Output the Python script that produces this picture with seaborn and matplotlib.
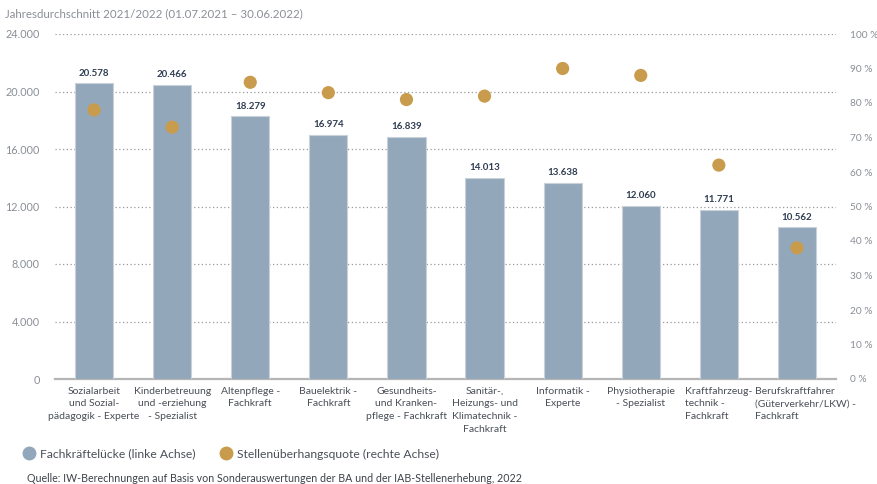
import matplotlib
matplotlib.use("Agg")
import matplotlib.pyplot as plt
from matplotlib.lines import Line2D
from matplotlib.transforms import ScaledTranslation, blended_transform_factory
import seaborn as sns
import numpy as np
import pandas as pd

categories = [
    "Sozialarbeit\nund Sozial-\npädagogik - Experte",
    "Kinderbetreuung\nund -erziehung\n- Spezialist",
    "Altenpflege -\nFachkraft",
    "Bauelektrik -\nFachkraft",
    "Gesundheits-\nund Kranken-\npflege - Fachkraft",
    "Sanitär-,\nHeizungs- und\nKlimatechnik -\nFachkraft",
    "Informatik -\nExperte",
    "Physiotherapie\n- Spezialist",
    "Kraftfahrzeug-\ntechnik -\nFachkraft",
    "Berufskraftfahrer\n(Güterverkehr/LKW) -\nFachkraft",
]
fachkraefteluecke = [20578, 20466, 18279, 16974, 16839, 14013, 13638, 12060, 11771, 10562]
quote = [78, 73, 86, 83, 81, 82, 90, 88, 62, 38]
left_ticks = [0, 4000, 8000, 12000, 16000, 20000, 24000]
right_ticks = [0, 10, 20, 30, 40, 50, 60, 70, 80, 90, 100]

BAR = "#93a7ba"
DOT = "#c99b4c"
GRAY = "#8a8f96"
TXT = "#4a4f57"
NAVY = "#2f3d52"

sns.set_theme(style="white")
plt.rcParams["font.family"] = ["Lato", "DejaVu Sans"]

fig = plt.figure(figsize=(8.77, 4.84), dpi=100)
ax = fig.add_axes([55/877, 1-379/484, (836-55)/877, (379-34)/484])

df = pd.DataFrame({"cat": categories, "val": fachkraefteluecke})
sns.barplot(data=df, x="cat", y="val", color=BAR, saturation=1, width=0.49,
            edgecolor="#c9d2db", linewidth=0.8, ax=ax, zorder=3)

ax.set_ylim(0, 24000)
ax.set_xlim(-0.5, len(categories) - 0.5)
ax.set_yticks(left_ticks)
ax.set_yticklabels([f"{t:,}".replace(",", ".") for t in left_ticks], color=GRAY, fontsize=7.8)
ax.yaxis.grid(True, linestyle=(0, (1, 2)), color="#9a9a9a", linewidth=0.9, zorder=0)
ax.set_axisbelow(True)
for s in ["top", "right", "left"]:
    ax.spines[s].set_visible(False)
ax.spines["bottom"].set_color("#b5b5b5")
ax.spines["bottom"].set_linewidth(1.6)
ax.tick_params(axis="both", length=0)
ax.tick_params(axis="y", pad=11)
ax.set_xlabel("")
ax.set_ylabel("")
ax.set_xticks(range(len(categories)))
ax.set_xticklabels([""] * len(categories))

trans = blended_transform_factory(ax.transData, ax.transAxes)
for i, lab in enumerate(categories):
    t = trans
    if i == len(categories) - 1:
        t = trans + ScaledTranslation(9/100, 0, fig.dpi_scale_trans)
    ax.text(i, -8/345, lab, transform=t, ha="center", va="top", fontsize=7.5,
            color=TXT, linespacing=1.5, multialignment="left" if i >= 8 else "center")

ax.bar_label(ax.containers[0], labels=[f"{v:,}".replace(",", ".") for v in fachkraefteluecke],
             padding=4, fontsize=7, fontweight="bold", color=NAVY)

ax2 = ax.twinx()
sns.scatterplot(data=pd.DataFrame({"pos": np.arange(len(quote)), "q": quote}), x="pos", y="q",
                color=DOT, s=90, edgecolor="none", ax=ax2, zorder=4, legend=False)
ax2.set_ylim(0, 100)
ax2.set_xlim(-0.5, len(categories) - 0.5)
ax2.set_yticks(right_ticks)
ax2.set_yticklabels([f"{t} %" for t in right_ticks], color=GRAY, fontsize=7.3)
ax2.tick_params(axis="y", length=0, pad=10)
ax2.set_ylabel("")
ax2.set_xlabel("")
for s in ax2.spines.values():
    s.set_visible(False)
ax2.grid(False)

fig.text(5/877, 1-14/484, "Jahresdurchschnitt 2021/2022 (01.07.2021 – 30.06.2022)",
         fontsize=8.3, color=GRAY, va="center", ha="left")

handles = [
    Line2D([], [], marker="o", linestyle="none", markersize=9, color=BAR),
    Line2D([], [], marker="o", linestyle="none", markersize=9, color=DOT),
]
fig.legend(handles, ["Fachkräftelücke (linke Achse)", "Stellenüberhangsquote (rechte Achse)"],
           loc="center left", bbox_to_anchor=(17/877, 1-454/484), ncol=2, frameon=False,
           fontsize=8.7, labelcolor=TXT, handletextpad=0.4, columnspacing=2.0, borderpad=0,
           handlelength=1.0)

fig.text(27/877, 1-478/484, "Quelle: IW-Berechnungen auf Basis von Sonderauswertungen der BA und der IAB-Stellenerhebung, 2022",
         fontsize=7.7, color="#3d4249", va="center", ha="left")

fig.savefig("out.png", dpi=100)
